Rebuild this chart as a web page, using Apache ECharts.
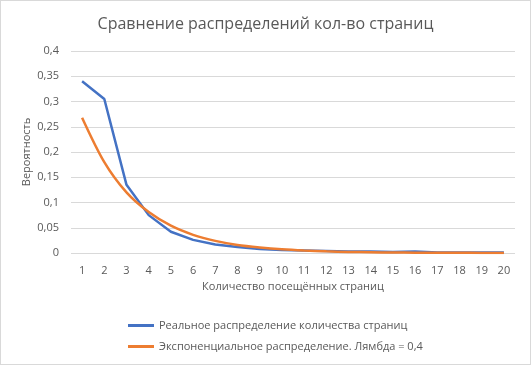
<!DOCTYPE html>
<html><head><meta charset="utf-8">
<script src="https://cdn.jsdelivr.net/npm/echarts@6/dist/echarts.min.js"></script>
<style>html,body{margin:0;padding:0;background:#fff}#c{width:529px;height:363px;border:1px solid #d9d9d9}</style>
</head><body><div id="c"></div>
<script>
const categories = ['1','2','3','4','5','6','7','8','9','10','11','12','13','14','15','16','17','18','19','20'];
const realValues = [0.34,0.305,0.135,0.075,0.042,0.026,0.017,0.012,0.008,0.006,0.005,0.004,0.003,0.003,0.002,0.003,0.001,0.001,0.001,0.001];
const expValues = [0.268,0.180,0.120,0.081,0.054,0.036,0.024,0.016,0.011,0.0073,0.0049,0.0033,0.0022,0.0015,0.0010,0.0007,0.0004,0.0003,0.0002,0.0001];
const seriesNames = ['Реальное распределение количества страниц','Экспоненциальное распределение. Лямбда = 0,4'];
const yTicks = [0,0.05,0.1,0.15,0.2,0.25,0.3,0.35,0.4];

const chart = echarts.init(document.getElementById('c'));
const txt = '#595959';
chart.setOption({
  animation:false,
  title:{text:'Сравнение распределений кол-во страниц',left:'center',top:10,
    textStyle:{fontFamily:'Open Sans',fontSize:16,fontWeight:'normal',color:txt}},
  grid:{left:70,right:15,top:50,bottom:111,containLabel:false},
  legend:{orient:'vertical',left:122,top:314,itemWidth:26,itemHeight:3,itemGap:10,
    icon:'rect',textStyle:{fontFamily:'Open Sans',fontSize:11,color:txt},data:seriesNames},
  xAxis:{type:'category',data:categories,boundaryGap:true,
    name:'Количество посещённых страниц',nameLocation:'middle',nameGap:27,
    nameTextStyle:{fontFamily:'Open Sans',fontSize:11,color:txt},
    axisLine:{show:false},axisTick:{show:false},
    axisLabel:{fontFamily:'Open Sans',fontSize:11,color:txt,margin:12}},
  yAxis:{type:'value',min:0,max:0.4,interval:0.05,
    name:'Вероятность',nameLocation:'middle',nameGap:39,nameMoveOverlap:false,
    nameTextStyle:{fontFamily:'Open Sans',fontSize:11,color:txt},
    axisLine:{show:false},axisTick:{show:false},
    splitLine:{lineStyle:{color:'#d9d9d9',width:1}},
    axisLabel:{fontFamily:'Open Sans',fontSize:11,color:txt,margin:12,
      formatter:v=>{const t=yTicks.find(x=>Math.abs(x-v)<1e-9);return String(+((t??v).toFixed(2))).replace('.',',');}}},
  series:[
    {name:seriesNames[0],type:'line',data:realValues,symbol:'none',
      lineStyle:{color:'#4472c4',width:2.5},itemStyle:{color:'#4472c4'}},
    {name:seriesNames[1],type:'line',data:expValues,symbol:'none',smooth:0.3,
      lineStyle:{color:'#ed7d31',width:2.5},itemStyle:{color:'#ed7d31'}}
  ]
});
</script></body></html>
